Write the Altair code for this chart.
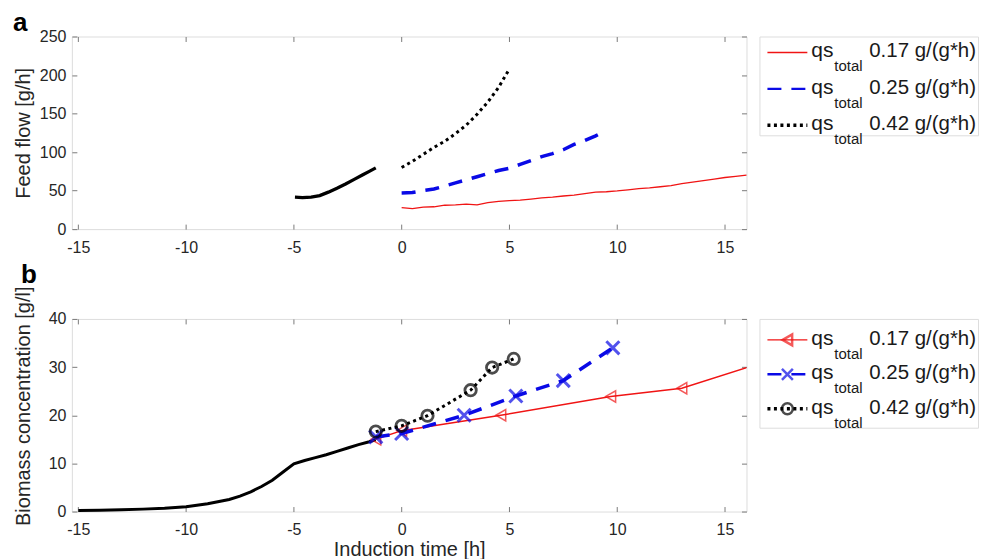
import altair as alt
import pandas as pd

# ---------------- data ----------------
# panel a: feed flow [g/h]
pre_feed_t = [-4.95, -4.6, -4.2, -3.8, -3.4, -3.0, -2.6, -2.2, -1.8, -1.5, -1.2]
pre_feed_v = [41.5, 41.0, 41.5, 43.5, 48.0, 53.0, 58.5, 64.5, 70.5, 75.0, 79.5]

feed017_t = [0, 0.5, 1, 1.5, 2, 2.5, 3, 3.5, 4, 4.5, 5, 5.5, 6, 6.5, 7, 7.5, 8, 8.5,
             9, 9.5, 10, 10.5, 11, 11.5, 12, 12.5, 13, 13.5, 14, 14.5, 15, 15.5, 16]
feed017_v = [28, 26.5, 28.5, 29, 31, 31.5, 32.5, 31.5, 34.5, 36, 37, 37.5, 39, 40.5,
             41.5, 43, 44, 46, 48, 48.5, 49.5, 51, 52.5, 53.5, 55, 56.5, 59, 61, 63,
             65, 67, 68.5, 70]

feed025_t = [0, 0.5, 1, 1.5, 2, 2.5, 3, 3.5, 4, 4.5, 5, 5.5, 6, 6.5, 7, 7.5, 8, 8.5, 9, 9.5]
feed025_v = [47, 47.5, 50, 52, 56, 60, 64, 68, 72, 76, 79, 84, 89, 94, 98, 103, 110, 115, 121, 128]

feed042_t = [0, 0.5, 1, 1.5, 2, 2.5, 3, 3.5, 4, 4.5, 5]
feed042_v = [80, 88, 97, 106, 114, 124, 135, 149, 165, 184, 208]

# panel b: biomass concentration [g/l]
pre_bio_t = [-15, -14, -13, -12, -11, -10, -9, -8, -7.5, -7, -6.5, -6, -5.5, -5,
             -4.5, -4, -3.5, -3, -2.5, -2, -1.5, -1.2]
pre_bio_v = [0.2, 0.25, 0.35, 0.5, 0.7, 1.0, 1.6, 2.5, 3.2, 4.1, 5.2, 6.5, 8.2, 9.9,
             10.6, 11.2, 11.8, 12.5, 13.2, 13.9, 14.5, 14.9]

bio017_t = [-1.2, 0, 4.6, 9.7, 13.0, 17.0]
bio017_v = [15.0, 16.8, 20.0, 23.9, 25.6, 31.3]

bio025_t = [-1.2, 0, 2.9, 5.3, 7.5, 9.8]
bio025_v = [15.5, 16.2, 20.0, 24.0, 27.2, 34.0]

bio042_t = [-1.2, 0, 1.2, 3.2, 4.2, 5.2]
bio042_v = [16.6, 17.8, 19.9, 25.2, 29.9, 31.7]

series = ["0.17", "0.25", "0.42"]
series_labels = ["0.17 g/(g*h)", "0.25 g/(g*h)", "0.42 g/(g*h)"]
panel_letters = ["a", "b"]

x_ticks = [-15, -10, -5, 0, 5, 10, 15]
y_ticks_a = [0, 50, 100, 150, 200, 250]
y_ticks_b = [0, 10, 20, 30, 40]

# ---------------- styling ----------------
FONT = "Liberation Sans"
BOX = "#7a7a7a"
TXT = "#262626"
RED = "#f01414"
BLUE = "#0a0ae6"
BLACK = "#000000"
W, H = 676, 193
XSHAPE = "M-1,-1L1,1M-1,1L1,-1"

x_scale = alt.Scale(domain=[-15.3, 16], nice=False, zero=False)
ya_scale = alt.Scale(domain=[0, 250], nice=False)
yb_scale = alt.Scale(domain=[0, 40], nice=False)

TICK = {"expr": "-5"}


def ax(orient, values, title=None, labels=True, title_y=None):
    kw = dict(orient=orient, values=values, grid=False, domain=False,
              ticks=True, tickSize=TICK, tickColor=BOX, tickWidth=1,
              labels=labels, labelFont=FONT, labelFontSize=16, labelColor=TXT,
              labelExpr="'' + datum.value",
              titleFont=FONT, titleFontSize=20, titleFontWeight="normal",
              titleColor=TXT)
    if not labels:
        kw.update(minExtent=0, maxExtent=0)
    elif orient in ("left", "right"):
        kw.update(minExtent=32, maxExtent=32, titlePadding=6, labelPadding=11)
        if title_y is not None:
            kw.update(titleX=-38, titleY=title_y)
    else:
        kw.update(minExtent=22, maxExtent=22, titlePadding=6, labelPadding=15)
    kw["title"] = title
    return alt.Axis(**kw)


def df(t, v):
    return pd.DataFrame({"t": t, "v": v})


def letter(lab, dx, dy):
    return alt.Chart(pd.DataFrame({"lab": [lab]})).mark_text(
        align="left", baseline="alphabetic", font=FONT, fontSize=26,
        fontWeight="bold", color=BLACK).encode(
        x=alt.value(dx), y=alt.value(dy), text="lab:N")


# ---------------- panel a ----------------
a_pre = alt.Chart(df(pre_feed_t, pre_feed_v)).mark_line(
    color=BLACK, strokeWidth=3.3).encode(
    x=alt.X("t:Q", scale=x_scale, axis=ax("bottom", x_ticks)),
    y=alt.Y("v:Q", scale=ya_scale,
            axis=ax("left", y_ticks_a, "Feed flow [g/h]", title_y=96.5)))
a_17 = alt.Chart(df(feed017_t, feed017_v)).mark_line(
    color=RED, strokeWidth=1.3).encode(
    x=alt.X("t:Q", scale=x_scale, axis=ax("top", x_ticks, labels=False)),
    y=alt.Y("v:Q", scale=ya_scale, axis=ax("right", y_ticks_a, labels=False)))
a_25 = alt.Chart(df(feed025_t, feed025_v)).mark_line(
    color=BLUE, strokeWidth=3.5, strokeDash=[14, 10]).encode(
    x=alt.X("t:Q", scale=x_scale, axis=None),
    y=alt.Y("v:Q", scale=ya_scale, axis=None))
a_42 = alt.Chart(df(feed042_t, feed042_v)).mark_line(
    color=BLACK, strokeWidth=3, strokeDash=[3, 3.5]).encode(
    x=alt.X("t:Q", scale=x_scale, axis=None),
    y=alt.Y("v:Q", scale=ya_scale, axis=None))

panel_a = alt.layer(a_pre, a_17, a_25, a_42,
                    letter(panel_letters[0], -59, -6)).resolve_axis(
    x="independent", y="independent").properties(width=W, height=H)

# ---------------- panel b ----------------
b_pre = alt.Chart(df(pre_bio_t, pre_bio_v)).mark_line(
    color=BLACK, strokeWidth=3).encode(
    x=alt.X("t:Q", scale=x_scale, axis=ax("bottom", x_ticks, "Induction time [h]")),
    y=alt.Y("v:Q", scale=yb_scale,
            axis=ax("left", y_ticks_b, "Biomass concentration [g/l]", title_y=87)))
b_17l = alt.Chart(df(bio017_t, bio017_v)).mark_line(
    color=RED, strokeWidth=1.5, clip=True).encode(
    x=alt.X("t:Q", scale=x_scale, axis=ax("top", x_ticks, labels=False)),
    y=alt.Y("v:Q", scale=yb_scale, axis=ax("right", y_ticks_b, labels=False)))
b_17p = alt.Chart(df(bio017_t, bio017_v)).mark_point(
    shape="triangle-left", color=RED, filled=False, size=130, strokeWidth=1.5,
    clip=True).encode(
    x=alt.X("t:Q", scale=x_scale, axis=None),
    y=alt.Y("v:Q", scale=yb_scale, axis=None))
b_25l = alt.Chart(df(bio025_t, bio025_v)).mark_line(
    color=BLUE, strokeWidth=3.5, strokeDash=[14, 10]).encode(
    x=alt.X("t:Q", scale=x_scale, axis=None),
    y=alt.Y("v:Q", scale=yb_scale, axis=None))
b_25p = alt.Chart(df(bio025_t, bio025_v)).mark_point(
    shape=XSHAPE, color=BLUE, filled=False, size=170, strokeWidth=3).encode(
    x=alt.X("t:Q", scale=x_scale, axis=None),
    y=alt.Y("v:Q", scale=yb_scale, axis=None))
b_42l = alt.Chart(df(bio042_t, bio042_v)).mark_line(
    color=BLACK, strokeWidth=3, strokeDash=[3, 3.5]).encode(
    x=alt.X("t:Q", scale=x_scale, axis=None),
    y=alt.Y("v:Q", scale=yb_scale, axis=None))
b_42p = alt.Chart(df(bio042_t, bio042_v)).mark_point(
    shape="circle", color=BLACK, filled=False, size=130, strokeWidth=2.8).encode(
    x=alt.X("t:Q", scale=x_scale, axis=None),
    y=alt.Y("v:Q", scale=yb_scale, axis=None))

panel_b = alt.layer(b_pre, b_17l, b_17p, b_25l, b_25p, b_42l, b_42p,
                    letter(panel_letters[1], -51, -36)).resolve_axis(
    x="independent", y="independent").properties(width=W, height=H)

# ---------------- legends ----------------
leg_df = pd.DataFrame({"s": series, "i": [0, 1, 2], "lbl": series_labels})
col = alt.Color("s:N", scale=alt.Scale(domain=series, range=[RED, BLUE, BLACK]),
                legend=None)


def legend_panel(y_first, y_last, height, dash_w, markers):
    ys = alt.Y("i:Q", scale=alt.Scale(domain=[0, 2], range=[y_first, y_last]),
               axis=None)
    base = alt.Chart(leg_df)
    lines = base.mark_rule().encode(
        x=alt.value(8), x2=alt.value(48), y=ys, color=col,
        strokeDash=alt.StrokeDash("s:N", scale=alt.Scale(
            domain=series, range=[[1, 0], [14, 10], [3, 3.5]]), legend=None),
        size=alt.Size("s:N", scale=alt.Scale(domain=series, range=dash_w),
                      legend=None))
    qs = base.mark_text(align="left", baseline="alphabetic", font=FONT,
                        fontSize=21, color="#1a1a1a", dy=5).encode(
        x=alt.value(52), y=ys, text=alt.value("qs"))
    sub = base.mark_text(align="left", baseline="alphabetic", font=FONT,
                         fontSize=15, color="#1a1a1a", dy=19).encode(
        x=alt.value(75), y=ys, text=alt.value("total"))
    val = base.mark_text(align="left", baseline="alphabetic", font=FONT,
                         fontSize=20.5, color="#1a1a1a", dy=5).encode(
        x=alt.value(110), y=ys, text="lbl:N")
    layers = [lines]
    if markers:
        layers.append(base.mark_point(filled=False, size=120, strokeWidth=2.5).encode(
            x=alt.value(28), y=ys, color=col,
            shape=alt.Shape("s:N", scale=alt.Scale(
                domain=series, range=["triangle-left", XSHAPE, "circle"]),
                legend=None)))
    layers += [qs, sub, val]
    return alt.layer(*layers).properties(width=219, height=height)


leg_a = legend_panel(16, 89, 99, [1.3, 3.5, 3], False)
leg_b = legend_panel(21, 90, 109, [1.5, 3.5, 3], True)

chart = alt.concat(panel_a, leg_a, panel_b, leg_b, columns=2, bounds="flush",
                   spacing={"row": 90, "column": 13}).properties(
    padding={"left": 4, "top": 0, "right": 0, "bottom": 0}
).configure_view(stroke=BOX, strokeWidth=1.3).configure(background="white")

chart.save("out.html", embed_options={"renderer": "svg", "actions": False})
